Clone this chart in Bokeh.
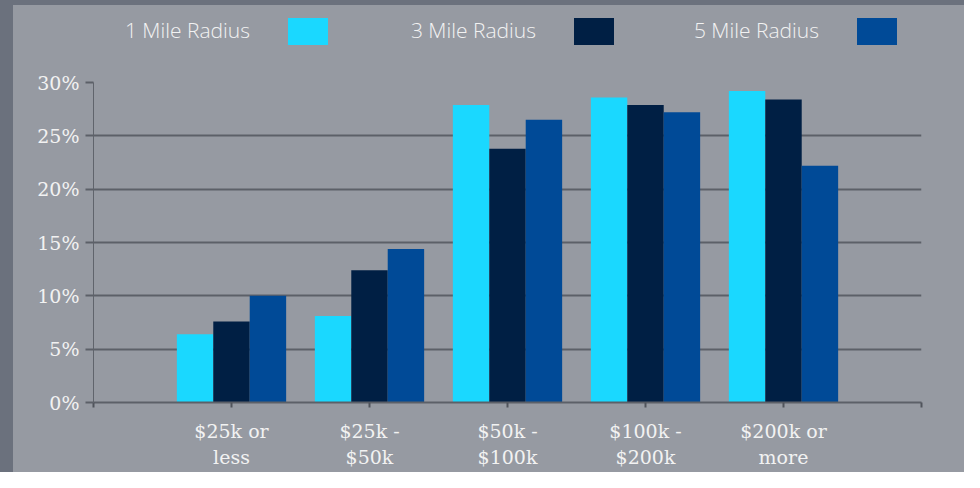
from bokeh.plotting import figure
from bokeh.layouts import column, row
from bokeh.models import ColumnDataSource, FixedTicker, PrintfTickFormatter, Range1d, Div
from bokeh.embed import file_html
from bokeh.resources import INLINE

# ---- data ----
categories = ["$25k or\nless", "$25k -\n$50k", "$50k -\n$100k", "$100k -\n$200k", "$200k or\nmore"]
series_names = ["1 Mile Radius", "3 Mile Radius", "5 Mile Radius"]
one_mile = [6.4, 8.1, 27.9, 28.6, 29.2]
three_mile = [7.6, 12.4, 23.8, 27.9, 28.4]
five_mile = [10.0, 14.4, 26.5, 27.2, 22.2]
y_ticks = [0, 5, 10, 15, 20, 25, 30]

colors = ["#1ad8ff", "#001f44", "#004a97"]
BG = "#969aa2"
DARK = "#6b717d"
GRID = "#5c6068"
TXT = "#f2f2f2"

W, H = 964, 472
LEG_H = 60
STRIP = 13
PH = H - LEG_H
PW = W - STRIP

# ---- legend (HTML strip above the chart) ----
text_ends = [250, 536, 819]
parts = ['<div style="position:relative;width:%dpx;height:%dpx;background:%s;overflow:hidden;">' % (W, LEG_H, BG),
         '<div style="position:absolute;left:0;top:0;width:%dpx;height:%dpx;background:%s;"></div>' % (STRIP, LEG_H, DARK),
         '<div style="position:absolute;left:0;top:0;width:%dpx;height:5px;background:%s;"></div>' % (W, DARK)]
for i, name in enumerate(series_names):
    te = text_ends[i]
    parts.append('<span style="position:absolute;right:%dpx;top:16px;line-height:28px;'
                 'font-family:\'Open Sans\';font-weight:300;font-size:21px;color:%s;white-space:nowrap;">%s</span>'
                 % (W - te, TXT, name))
    parts.append('<div style="position:absolute;left:%dpx;top:18px;width:40px;height:27px;background:%s;"></div>'
                 % (te + 38, colors[i]))
parts.append('</div>')
legend_div = Div(text="".join(parts), width=W, height=LEG_H, margin=0,
                 styles={"background-color": BG})

strip = Div(text="", width=STRIP, height=PH, margin=0, styles={"background-color": DARK})

# ---- main chart ----
p = figure(width=PW, height=PH, output_backend="svg", toolbar_location=None,
           x_range=Range1d(0, len(categories) + 1), y_range=Range1d(0, 30),
           min_border_left=93 - STRIP, min_border_right=PW - (921 - STRIP),
           min_border_top=82 - LEG_H, min_border_bottom=H - 402,
           background_fill_color=BG, border_fill_color=BG, outline_line_color=None,
           styles={"background-color": BG})

xs = list(range(1, len(categories) + 1))
bw = 0.264
for i, vals in enumerate([one_mile, three_mile, five_mile]):
    off = (i - 1) * bw
    src = ColumnDataSource(dict(x=[x + off for x in xs], top=vals))
    p.vbar(x="x", top="top", width=bw, source=src, fill_color=colors[i], line_color=None)

p.xgrid.visible = False
p.ygrid.ticker = FixedTicker(ticks=y_ticks)
p.ygrid.grid_line_color = GRID
p.ygrid.grid_line_width = 2

p.yaxis.ticker = FixedTicker(ticks=y_ticks)
p.yaxis.formatter = PrintfTickFormatter(format="%d%%")
p.yaxis.major_tick_out = 8
p.yaxis.major_tick_in = 0
p.yaxis.major_tick_line_color = GRID
p.yaxis.major_tick_line_width = 2
p.yaxis.minor_tick_line_color = None
p.yaxis.axis_line_color = "#60646c"
p.yaxis.axis_line_width = 1
p.yaxis.major_label_standoff = 6
p.yaxis.major_label_text_font = "DejaVu Serif"
p.yaxis.major_label_text_font_size = "19px"
p.yaxis.major_label_text_color = TXT

p.xaxis.ticker = FixedTicker(ticks=list(range(0, len(categories) + 2)))
overrides = {0: "", len(categories) + 1: ""}
for i, c in enumerate(categories):
    overrides[i + 1] = c
p.xaxis.major_label_overrides = overrides
p.xaxis.major_tick_out = 5
p.xaxis.major_tick_in = 0
p.xaxis.major_tick_line_color = "#50545c"
p.xaxis.major_tick_line_width = 2
p.xaxis.minor_tick_line_color = None
p.xaxis.axis_line_color = GRID
p.xaxis.axis_line_width = 2
p.xaxis.major_label_standoff = 12
p.xaxis.major_label_text_font = "DejaVu Serif"
p.xaxis.major_label_text_font_size = "19px"
p.xaxis.major_label_text_color = TXT
p.xaxis.major_label_text_line_height = 1.2

layout = column(legend_div, row(strip, p, spacing=0, styles={"background-color": BG}),
                spacing=0, styles={"background-color": BG})

open("out.html", "w").write(file_html(layout, INLINE))
